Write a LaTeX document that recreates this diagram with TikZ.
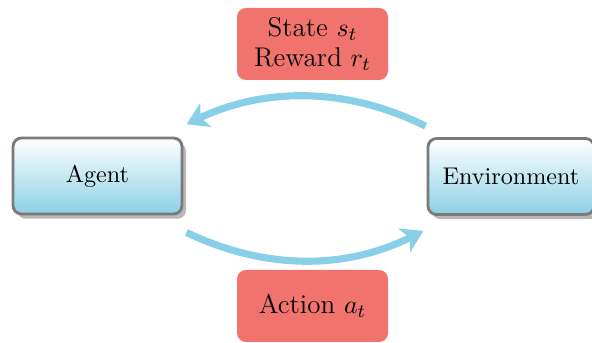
\documentclass[tikz,border=0pt]{standalone}
\usetikzlibrary{arrows.meta,shadows}
\definecolor{loopblue}{HTML}{89CFE8}
\definecolor{boxblue}{HTML}{8DD0E6}
\definecolor{msgred}{HTML}{F0736E}
\definecolor{edgegray}{HTML}{7A7A7A}
\def\u{0.422pt}
\tikzset{
  actor/.style={draw=edgegray, line width=1.2pt, rounded corners=3.6pt,
    top color=white, bottom color=boxblue,
    drop shadow={shadow xshift=1.7pt, shadow yshift=-2pt, fill=black!28, opacity=1},
    minimum height=76*\u, inner sep=0pt, font=\fontsize{10.2}{12}\selectfont},
  message/.style={fill=msgred, rounded corners=3.8pt, minimum width=151*\u,
    minimum height=72*\u, inner sep=0pt, align=center,
    font=\fontsize{11.4}{12.7}\selectfont},
  loop/.style={draw=loopblue, line width=3pt,
    -{Stealth[length=9pt, width=11pt, inset=2.5pt]}},
}
\begin{document}
\begin{tikzpicture}[x=\u, y=-\u]
\useasboundingbox (0,0) rectangle (592,343);
\begin{scope}
\clip (0,0) rectangle (592,343);
\node[actor, minimum width=169*\u] (agent) at (97.5,176) {Agent};
\node[actor, minimum width=166*\u] (env) at (511,176.5) {Environment};
\node[message] (obs) at (312.5,44) {State $s_t$\\Reward $r_t$};
\node[message] (act) at (312.5,306) {Action $a_t$};
\draw[loop] ([xshift=-0.4pt, yshift=4.6pt]env.north west)
  .. controls (347,87) and (265,87) ..
  ([xshift=1.3pt, yshift=5.2pt]agent.north east);
\draw[loop] ([xshift=1.3pt, yshift=-7.2pt]agent.south east)
  .. controls (265,270) and (345,270) ..
  ([xshift=-1.3pt, yshift=-6.3pt]env.south west);
\end{scope}
\end{tikzpicture}
\end{document}
